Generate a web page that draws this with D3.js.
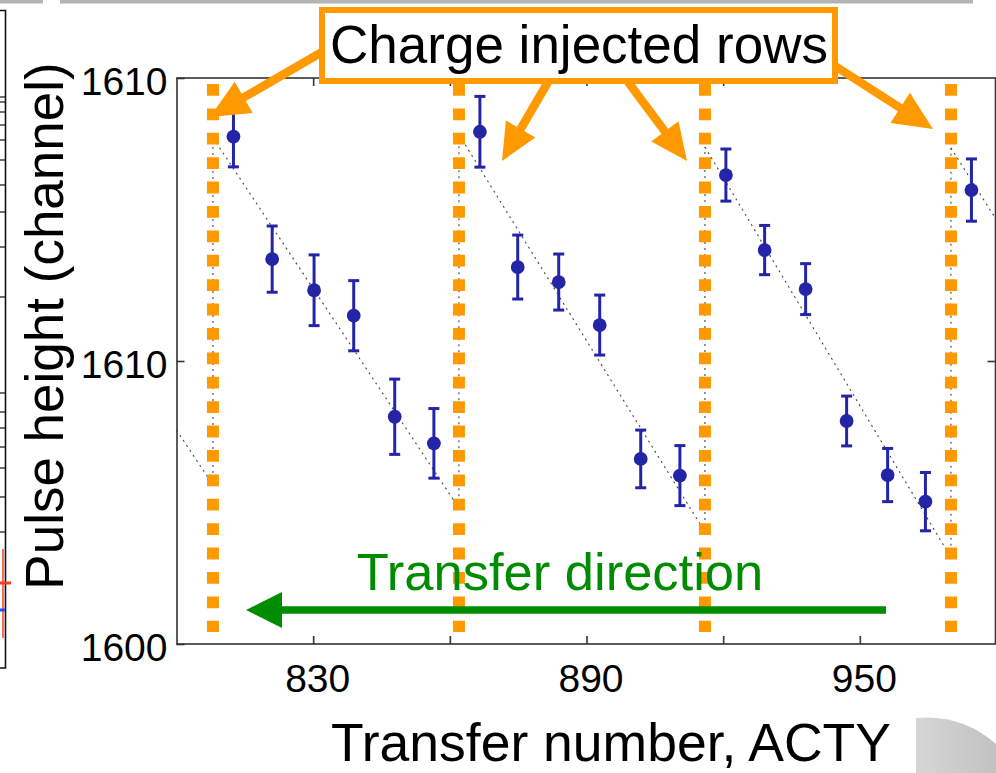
<!DOCTYPE html>
<html>
<head>
<meta charset="utf-8">
<script src="https://cdn.jsdelivr.net/npm/d3@7"></script>
<style>
  html, body { margin: 0; padding: 0; background: #fff; }
  svg { display: block; }
  text { font-family: "Liberation Sans", Arial, Helvetica, sans-serif; }
</style>
</head>
<body>
<div id="chart"></div>
<script>
// ---------------- DATA ----------------
const transferNumber = [812.5, 821.0, 830.2, 838.9, 847.9, 856.5,
                        866.6, 874.9, 883.9, 892.9, 901.9, 910.5,
                        920.6, 929.1, 938.1, 947.1, 956.1, 964.4,
                        974.5];
const pulseHeight = [1617.93, 1613.6, 1612.5, 1611.6, 1608.03, 1607.09,
                     1618.1, 1613.32, 1612.79, 1611.27, 1606.54, 1605.95,
                     1616.57, 1613.92, 1612.54, 1607.88, 1605.97, 1605.03,
                     1616.04];
const pulseErr = [1.07, 1.17, 1.25, 1.24, 1.33, 1.23,
                  1.25, 1.13, 0.99, 1.06, 1.02, 1.06,
                  0.92, 0.87, 0.90, 0.88, 0.94, 1.03,
                  1.10];
// charge-injected rows (transfer numbers)
const injectionRows = [808, 862, 916, 970];
// sawtooth fit: segment boundaries and values at both ends
const fitSegStart = [800, 808, 862, 916, 970];
const fitSegEnd   = [808, 862, 916, 970, 980];
const fitStartVal = [1607.56, 1617.89, 1618.00, 1617.56, 1617.53];
const fitEndVal   = [1605.62, 1604.80, 1603.96, 1603.05, 1614.98];
// axes
const xDomain = [800, 980];
const yDomain = [1600, 1620];
const xTicks = [830, 860, 890, 920, 950];
const xTickLabels = ["830", "", "890", "", "950"];
const yTicks = [1600, 1610, 1620];
const yTickLabels = ["1600", "1610", "1610"];
const xTitle = "Transfer number, ACTY";
const yTitle = "Pulse height (channel)";
const boxLabel = "Charge injected rows";
const dirLabel = "Transfer direction";

// ---------------- LAYOUT ----------------
const W = 996, H = 773;
const pL = 176.5, pR = 996.5, pT = 78, pB = 644, frameR = 995.5;
const ORANGE = "#ff9900", BLUE = "#2424a6", GREEN = "#008c00", AX = "#333";
const FONT = '"Liberation Sans", Arial, Helvetica, sans-serif';

const svg = d3.select("#chart").append("svg")
  .attr("width", W).attr("height", H).attr("viewBox", `0 0 ${W} ${H}`);
svg.append("rect").attr("width", W).attr("height", H).attr("fill", "#fff");

const x = d3.scaleLinear().domain(xDomain).range([pL, pR]);
const y = d3.scaleLinear().domain(yDomain).range([pB, pT]);

// ---- slide artifacts (cropped neighbours) ----
svg.append("rect").attr("x", 0).attr("y", 0).attr("width", 43).attr("height", 3.5).attr("fill", "#b4b4b4");
svg.append("rect").attr("x", 60).attr("y", 0).attr("width", 913).attr("height", 3.5).attr("fill", "#b4b4b4");
const nb = svg.append("g").attr("stroke", "#111").attr("stroke-width", 1.6).attr("fill", "none");
nb.append("path").attr("d", "M0,10.5 H5.5 V668 H0");
const nbTicks = [97, 102, 112, 125, 140, 160, 185, 212, 247, 297, 393, 412, 428, 447, 468, 497, 532];
nbTicks.forEach(t => nb.append("line").attr("x1", 0).attr("x2", 5.5).attr("y1", t).attr("y2", t).attr("stroke-width", 1.2));
svg.append("line").attr("x1", 3).attr("x2", 3).attr("y1", 549).attr("y2", 638).attr("stroke", "#ff3b1f").attr("stroke-width", 1.5);
svg.append("line").attr("x1", 0).attr("x2", 11).attr("y1", 583).attr("y2", 583).attr("stroke", "#ff3b1f").attr("stroke-width", 3);
svg.append("line").attr("x1", 0).attr("x2", 5).attr("y1", 610).attr("y2", 610).attr("stroke", "#2050ff").attr("stroke-width", 3);
const grad = svg.append("defs").append("linearGradient").attr("id", "gshade");
grad.append("stop").attr("offset", "0%").attr("stop-color", "#d6d6d6");
grad.append("stop").attr("offset", "100%").attr("stop-color", "#c2c2c2");
svg.append("path")
  .attr("d", "M916,718 Q962,714 996,744 L996,773 L916,773 Z")
  .attr("fill", "url(#gshade)");

// ---- plot area ----
const plot = svg.append("g");
const clipId = "plotclip";
svg.append("clipPath").attr("id", clipId).append("rect")
  .attr("x", pL).attr("y", pT).attr("width", frameR - pL).attr("height", pB - pT);

// fit lines (sawtooth)
const fitG = plot.append("g").attr("clip-path", `url(#${clipId})`)
  .attr("stroke", "#444").attr("stroke-width", 1.1).attr("stroke-dasharray", "2,4").attr("fill", "none");
fitSegStart.forEach((s, i) => {
  fitG.append("line")
    .attr("x1", x(s)).attr("y1", y(fitStartVal[i]))
    .attr("x2", x(fitSegEnd[i])).attr("y2", y(fitEndVal[i]));
  if (i > 0) {
    fitG.append("line")
      .attr("x1", x(s)).attr("y1", y(fitEndVal[i - 1]))
      .attr("x2", x(s)).attr("y2", y(fitStartVal[i]));
  }
});

// orange dotted lines at injected rows
plot.append("g").selectAll("line").data(injectionRows).join("line")
  .attr("x1", d => x(d)).attr("x2", d => x(d))
  .attr("y1", 84).attr("y2", 632)
  .attr("stroke", ORANGE).attr("stroke-width", 12)
  .attr("stroke-dasharray", "11.8,12.6");

// error bars + points
const pts = transferNumber.map((t, i) => ({ t, v: pulseHeight[i], e: pulseErr[i] }));
const eg = plot.append("g").attr("stroke", BLUE).attr("stroke-width", 3);
pts.forEach(p => {
  const cx = x(p.t), y1 = y(p.v + p.e), y2 = y(p.v - p.e);
  eg.append("line").attr("x1", cx).attr("x2", cx).attr("y1", y1).attr("y2", y2);
  eg.append("line").attr("x1", cx - 5.5).attr("x2", cx + 5.5).attr("y1", y1).attr("y2", y1);
  eg.append("line").attr("x1", cx - 5.5).attr("x2", cx + 5.5).attr("y1", y2).attr("y2", y2);
});
plot.append("g").selectAll("circle").data(pts).join("circle")
  .attr("cx", d => x(d.t)).attr("cy", d => y(d.v)).attr("r", 6.9).attr("fill", BLUE);

// frame
svg.append("rect").attr("x", pL + 0.5).attr("y", pT).attr("width", frameR - pL - 0.5).attr("height", pB - pT)
  .attr("fill", "none").attr("stroke", AX).attr("stroke-width", 1.6);

// axes
function styleAxis(g) {
  g.select(".domain").remove();
  g.selectAll(".tick line").attr("stroke", AX).attr("stroke-width", 1.6);
  g.selectAll("text").attr("fill", "#000").attr("font-family", FONT).attr("font-size", 39);
}
const xAxis = svg.append("g").attr("transform", `translate(0,${pB})`)
  .call(d3.axisBottom(x).tickValues(xTicks).tickSize(-8).tickPadding(20)
        .tickFormat((d, i) => xTickLabels[i]));
styleAxis(xAxis);
xAxis.selectAll("text").attr("dx", 4);
const xTop = svg.append("g").attr("transform", `translate(0,${pT})`)
  .call(d3.axisTop(x).tickValues(xTicks).tickSize(-8).tickFormat(""));
styleAxis(xTop);
const yAxis = svg.append("g").attr("transform", `translate(${pL},0)`)
  .call(d3.axisLeft(y).tickValues(yTicks).tickSize(-8).tickPadding(9)
        .tickFormat((d, i) => yTickLabels[i]));
styleAxis(yAxis);
yAxis.selectAll("text").attr("dy", "0.42em");
const yRight = svg.append("g").attr("transform", `translate(${frameR},0)`)
  .call(d3.axisRight(y).tickValues([1610]).tickSize(-8).tickFormat(""));
styleAxis(yRight);

// axis titles
svg.append("text").attr("x", 611).attr("y", 761).attr("text-anchor", "middle")
  .attr("font-size", 53.5).attr("fill", "#000").text(xTitle);
svg.append("text").attr("transform", "translate(63,326) rotate(-90)").attr("text-anchor", "middle")
  .attr("font-size", 53).attr("fill", "#000").text(yTitle);

// ---- annotations ----
function arrow(g, x0, y0, x1, y1, color, w, hl, hw) {
  const dx = x1 - x0, dy = y1 - y0, L = Math.hypot(dx, dy);
  const ux = dx / L, uy = dy / L, nx = -uy, ny = ux;
  const bx = x1 - ux * hl, by = y1 - uy * hl;
  g.append("line").attr("x1", x0).attr("y1", y0).attr("x2", bx + ux * 2).attr("y2", by + uy * 2)
    .attr("stroke", color).attr("stroke-width", w);
  g.append("path")
    .attr("d", `M${x1},${y1} L${bx + nx * hw},${by + ny * hw} L${bx - nx * hw},${by - ny * hw} Z`)
    .attr("fill", color);
}
const ann = svg.append("g");
arrow(ann, 322, 52, 210, 117, ORANGE, 8.5, 39, 18);
arrow(ann, 548, 82, 502, 161, ORANGE, 8.5, 37, 17);
arrow(ann, 628, 82, 687, 161, ORANGE, 8.5, 37, 17);
arrow(ann, 835, 66, 933, 129, ORANGE, 8.5, 39, 18);
ann.append("rect").attr("x", 322).attr("y", 10).attr("width", 513).attr("height", 71)
  .attr("fill", "#fff").attr("stroke", ORANGE).attr("stroke-width", 6);
ann.append("text").attr("x", 579).attr("y", 63).attr("text-anchor", "middle")
  .attr("font-size", 53).attr("fill", "#000").text(boxLabel);

arrow(ann, 886, 610, 246, 610, GREEN, 7.5, 36, 18);
ann.append("text").attr("x", 560).attr("y", 590).attr("text-anchor", "middle")
  .attr("font-size", 52.5).attr("fill", GREEN).text(dirLabel);
</script>
</body>
</html>
